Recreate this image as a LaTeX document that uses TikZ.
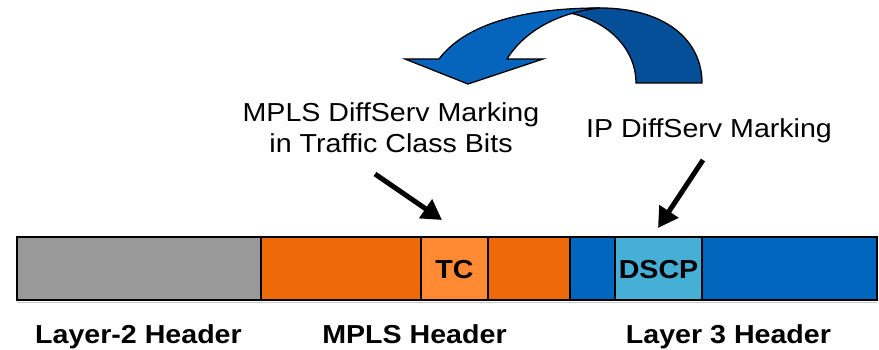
\documentclass[tikz,border=0pt]{standalone}
\usepackage{fontspec}
\setmainfont{Liberation Sans}[FakeStretch=1.1]
\usetikzlibrary{arrows.meta}
\definecolor{hgray}{RGB}{153,153,153}
\definecolor{horange}{RGB}{238,106,8}
\definecolor{htc}{RGB}{255,138,51}
\definecolor{hblue}{RGB}{0,102,189}
\definecolor{hdscp}{RGB}{69,175,214}
\definecolor{arrlight}{RGB}{5,101,189}
\definecolor{arrdark}{RGB}{4,79,152}
\definecolor{shadowgray}{RGB}{200,200,200}
\begin{document}
\begin{tikzpicture}[x=1pt,y=-1pt,
  field/.style={draw=black,line width=2.5pt,inner sep=0pt,outer sep=0pt},
  lbl/.style={font=\fontsize{26}{31}\selectfont,anchor=base,inner sep=0pt},
  blbl/.style={font=\fontsize{26}{31}\selectfont\bfseries,anchor=base,inner sep=0pt},
  pointer/.style={line width=5pt,-{Triangle[length=20pt,width=22pt]}},
  curvedarrow/.style={draw=black,line width=1.3pt,line join=miter}]
\useasboundingbox (0,0) rectangle (879,350);
% faint shadow under the bar
\draw[shadowgray,line width=1.2pt] (17,302.5) -- (877,302.5);
% bar fields
\draw[field,fill=hgray] (17,237) rectangle (261,300);
\draw[field,fill=horange] (261,237) rectangle (570,300);
\draw[field,fill=hblue] (570,237) rectangle (877,300);
\node[field,fill=htc,minimum width=67pt,minimum height=63pt] (tc) at (454.5,268.5) {};
\node[field,fill=hdscp,minimum width=87pt,minimum height=63pt] (dscp) at (658.5,268.5) {};
\node[blbl] at (454.5,278) {TC};
\node[blbl] at (658.5,278) {DSCP};
% labels
\node[blbl] (l2) at (138.5,343) {Layer-2 Header};
\node[blbl] (mpls) at (414.5,343) {MPLS Header};
\node[blbl] (l3) at (728.5,343) {Layer 3 Header};
% upper texts
\node[lbl,align=center] (mtext) at (391,153) {MPLS DiffServ Marking\\in Traffic Class Bits};
\node[lbl] (iptext) at (709,138) {IP DiffServ Marking};
% pointers
\coordinate (p1s) at (375,174);
\coordinate (p1e) at (442,220);
\coordinate (p2s) at (703,160);
\coordinate (p2e) at (658,228);
\draw[pointer] (p1s) -- (p1e);
\draw[pointer] (p2s) -- (p2e);
% curved arrow: dark back part
\filldraw[curvedarrow,fill=arrdark] (636,83) -- (702,83) .. controls (702,40) and (665,8) .. (600,8)
  .. controls (590,8) and (580,10) .. (570,13) .. controls (610,22) and (636,50) .. (636,83) -- cycle;
% light front part
\filldraw[curvedarrow,fill=arrlight] (405,59) -- (439,59) .. controls (470,18) and (540,8) .. (600,8)
  .. controls (560,12) and (525,30) .. (507,59) -- (543,59) -- (468,84) -- cycle;
\end{tikzpicture}
\end{document}
